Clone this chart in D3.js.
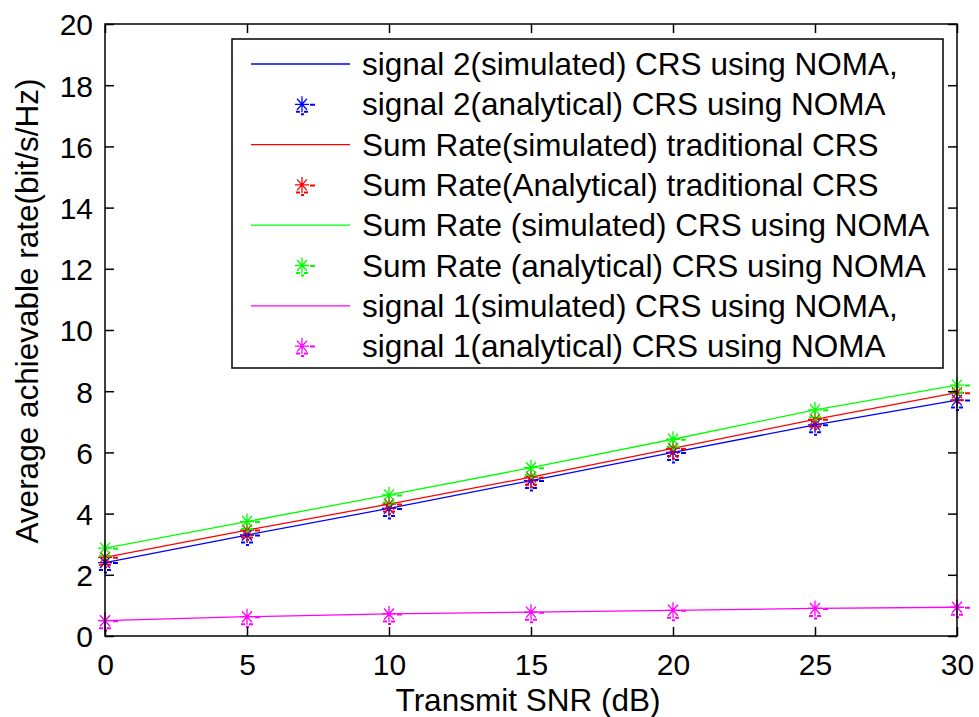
<!DOCTYPE html>
<html>
<head>
<meta charset="utf-8">
<script src="https://cdn.jsdelivr.net/npm/d3@7"></script>
<style>
  html, body { margin: 0; padding: 0; background: #fff; }
  svg { display: block; }
  text { font-family: "Liberation Sans", Arial, Helvetica, sans-serif; fill: #000; }
</style>
</head>
<body>
<svg id="chart" width="979" height="717"></svg>
<script>
// ---- data ----
const snr = [0, 5, 10, 15, 20, 25, 30];
const signal2Sim = [2.40, 3.30, 4.17, 5.08, 6.00, 6.90, 7.71];
const signal2Ana = [2.40, 3.30, 4.17, 5.08, 6.00, 6.90, 7.71];
const sumTradSim = [2.57, 3.46, 4.31, 5.19, 6.13, 7.08, 7.95];
const sumTradAna = [2.57, 3.46, 4.31, 5.19, 6.13, 7.08, 7.95];
const sumNomaSim = [2.87, 3.74, 4.61, 5.50, 6.43, 7.39, 8.20];
const sumNomaAna = [2.87, 3.74, 4.61, 5.50, 6.43, 7.39, 8.20];
const signal1Sim = [0.50, 0.63, 0.72, 0.78, 0.84, 0.90, 0.94];
const signal1Ana = [0.50, 0.63, 0.72, 0.78, 0.84, 0.90, 0.94];
const xTicks = [0, 5, 10, 15, 20, 25, 30];
const yTicks = [0, 2, 4, 6, 8, 10, 12, 14, 16, 18, 20];
const legendLabels = [
  "signal 2(simulated) CRS using NOMA,",
  "signal 2(analytical) CRS using NOMA",
  "Sum Rate(simulated) traditional CRS",
  "Sum Rate(Analytical) traditional CRS",
  "Sum Rate (simulated) CRS using NOMA",
  "Sum Rate (analytical) CRS using NOMA",
  "signal 1(simulated) CRS using NOMA,",
  "signal 1(analytical) CRS using NOMA"
];
const xLabel = "Transmit SNR (dB)";
const yLabel = "Average achievable rate(bit/s/Hz)";

// ---- layout ----
const L = 105, R = 957, T = 24, B = 636;
const svg = d3.select("#chart");
const x = d3.scaleLinear().domain([0, 30]).range([L, R]);
const y = d3.scaleLinear().domain([0, 20]).range([B, T]);

const series = [
  { sim: signal2Sim, ana: signal2Ana, color: "#0000ff" },
  { sim: sumTradSim, ana: sumTradAna, color: "#ff0000" },
  { sim: sumNomaSim, ana: sumNomaAna, color: "#00ff00" },
  { sim: signal1Sim, ana: signal1Ana, color: "#ff00ff" }
];

// asterisk marker with MATLAB-like fragments
const starPath = "M-7,0H7M0,-8V8M-5,-5.5L5,5.5M-5,5.5L5,-5.5";
const fragPath = "M8,0.5h5M-6,7.5h4M2,7.5h4M-1,10h3";
function drawMarker(g, cx, cy, color) {
  const m = g.append("g").attr("transform", `translate(${cx},${cy})`);
  m.append("path").attr("d", starPath).attr("stroke", color).attr("stroke-width", 1.3).attr("fill", "none");
  m.append("path").attr("d", fragPath).attr("stroke", color).attr("stroke-width", 2).attr("fill", "none");
}

// plot background
svg.append("rect").attr("x", L).attr("y", T).attr("width", R - L).attr("height", B - T).attr("fill", "#fff");

// data
const line = d3.line().x((d, i) => x(snr[i])).y(d => y(d));
const plotG = svg.append("g");
series.forEach(s => {
  plotG.append("path").datum(s.sim).attr("d", line)
    .attr("fill", "none").attr("stroke", s.color).attr("stroke-width", 1.3);
  s.ana.forEach((v, i) => drawMarker(plotG, x(snr[i]), y(v), s.color));
});

// axes box
const axG = svg.append("g");
axG.append("rect").attr("x", L).attr("y", T).attr("width", R - L).attr("height", B - T)
  .attr("fill", "none").attr("stroke", "#000").attr("stroke-width", 1.5);

const tickLen = 9;
const xAxisB = d3.axisBottom(x).tickValues(xTicks).tickSizeInner(-tickLen).tickSizeOuter(0).tickPadding(18);
const gxb = axG.append("g").attr("transform", `translate(0,${B})`).call(xAxisB);
const xAxisT = d3.axisTop(x).tickValues(xTicks).tickSizeInner(-tickLen).tickSizeOuter(0).tickFormat("");
const gxt = axG.append("g").attr("transform", `translate(0,${T})`).call(xAxisT);
const yAxisL = d3.axisLeft(y).tickValues(yTicks).tickSizeInner(-tickLen).tickSizeOuter(0).tickPadding(12);
const gyl = axG.append("g").attr("transform", `translate(${L},0)`).call(yAxisL);
const yAxisR = d3.axisRight(y).tickValues(yTicks).tickSizeInner(-tickLen).tickSizeOuter(0).tickFormat("");
const gyr = axG.append("g").attr("transform", `translate(${R},0)`).call(yAxisR);
[gxb, gxt, gyl, gyr].forEach(g => {
  g.select(".domain").remove();
  g.selectAll(".tick line").attr("stroke", "#000").attr("stroke-width", 1.5);
  g.selectAll("text").style("font-family", '"Liberation Sans", Arial, sans-serif').attr("fill", "#000");
});
gxb.selectAll("text").style("font-size", "30px").attr("dy", "0.71em");
gyl.selectAll("text").style("font-size", "30px").attr("dy", "0.36em");

// axis labels
svg.append("text").attr("x", 528).attr("y", 711).attr("text-anchor", "middle")
  .style("font-size", "31.5px").text(xLabel);
svg.append("text").attr("transform", "translate(38,311) rotate(-90)").attr("text-anchor", "middle")
  .style("font-size", "31.5px").text(yLabel);

// legend
const lg = svg.append("g");
lg.append("rect").attr("x", 232).attr("y", 39).attr("width", 943 - 232).attr("height", 368 - 39)
  .attr("fill", "#fff").attr("stroke", "#000").attr("stroke-width", 1.5);
legendLabels.forEach((lab, i) => {
  const ry = 64 + i * 40.3;
  const s = series[Math.floor(i / 2)];
  if (i % 2 === 0) {
    lg.append("line").attr("x1", 251).attr("x2", 350).attr("y1", ry).attr("y2", ry)
      .attr("stroke", s.color).attr("stroke-width", 1.3);
  } else {
    drawMarker(lg, 302, ry, s.color);
  }
  lg.append("text").attr("x", 362).attr("y", ry + 11).style("font-size", "31.5px").text(lab);
});
</script>
</body>
</html>
